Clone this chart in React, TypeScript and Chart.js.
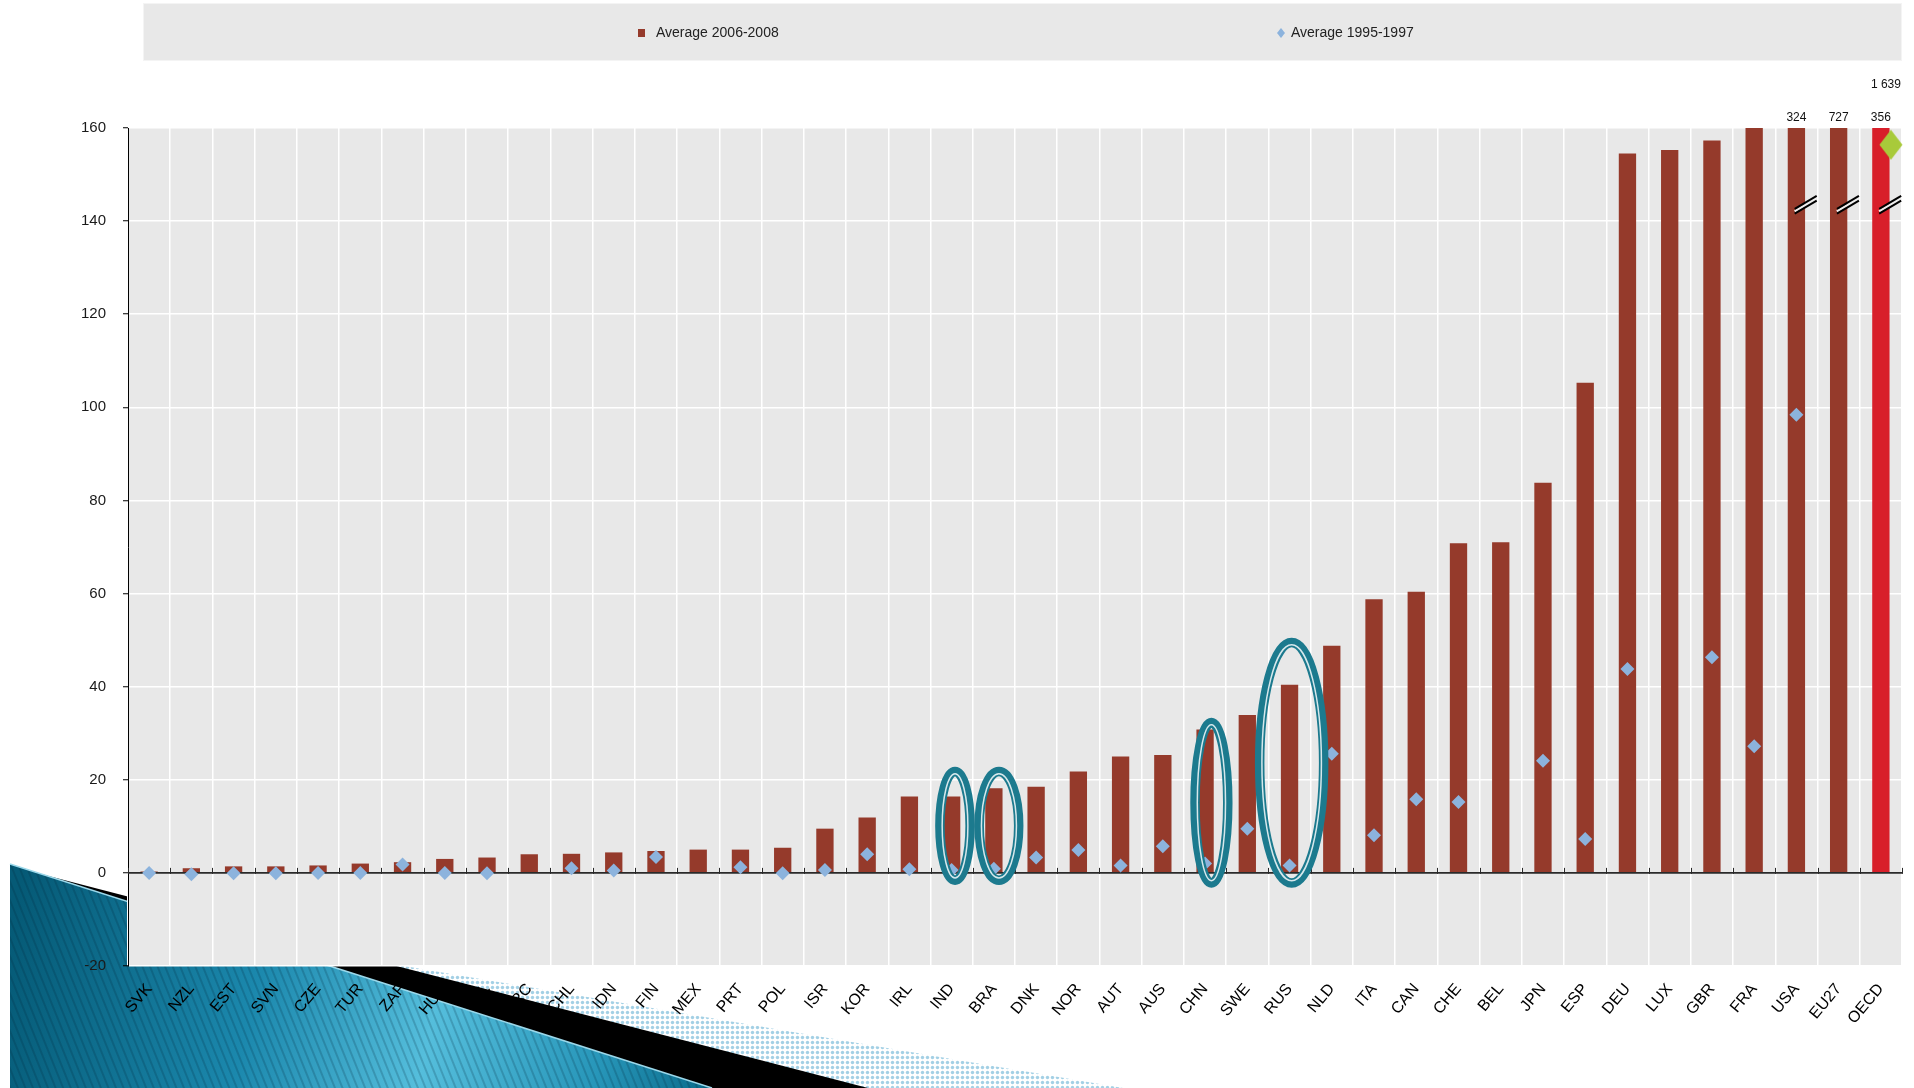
import React, { useEffect, useRef } from "react";
import { Chart, registerables } from "chart.js";

Chart.register(...registerables);

// Countries along the x axis, ordered by the recent average
const countries = [
  "SVK", "NZL", "EST", "SVN", "CZE", "TUR", "ZAF", "HUN", "ISL", "GRC",
  "CHL", "IDN", "FIN", "MEX", "PRT", "POL", "ISR", "KOR", "IRL", "IND",
  "BRA", "DNK", "NOR", "AUT", "AUS", "CHN", "SWE", "RUS", "NLD", "ITA",
  "CAN", "CHE", "BEL", "JPN", "ESP", "DEU", "LUX", "GBR", "FRA", "USA",
  "EU27", "OECD",
];

const avg2006_2008 = [
  0.3, 1.0, 1.4, 1.4, 1.6, 2.0, 2.3, 3.0, 3.3, 4.0,
  4.1, 4.4, 4.7, 5.0, 5.0, 5.4, 9.5, 11.9, 16.4, 16.4,
  18.2, 18.5, 21.8, 25.0, 25.3, 30.8, 33.9, 40.4, 48.8, 58.8,
  60.4, 70.8, 71.0, 83.8, 105.3, 154.5, 155.3, 157.3, 160, 324,
  727, 356,
];

const avg1995_1997: (number | null)[] = [
  0, -0.3, -0.1, -0.1, 0, 0, 1.8, 0, -0.1, null,
  1.0, 0.5, 3.4, null, 1.2, -0.1, 0.6, 4.0, 0.8, 0.6,
  0.9, 3.3, 4.9, 1.6, 5.7, 2.0, 9.5, 1.6, 25.6, 8.1,
  15.8, 15.2, null, 24.1, 7.3, 43.8, null, 46.3, 27.2, 98.4,
  null, 1639,
];

const seriesLabels = ["Average 2006-2008", "Average 1995-1997"];
const yTickValues = [-20, 0, 20, 40, 60, 80, 100, 120, 140, 160];
const highlighted = ["IND", "BRA", "CHN", "RUS"];

// Ring outlines around highlighted countries (value span, half width and shift in category widths)
const ringShapes: Record<string, { low: number; high: number; half: number; shift: number }> = {
  IND: { low: -2.6, high: 22.8, half: 0.47, shift: 0.08 },
  BRA: { low: -2.6, high: 22.8, half: 0.58, shift: 0.12 },
  CHN: { low: -3.2, high: 33.3, half: 0.5, shift: 0.15 },
  RUS: { low: -3.2, high: 50.5, half: 0.87, shift: 0.05 },
};

const Y_MIN = -20;
const Y_MAX = 160;
const BREAK_AT = 143.5; // where the axis-break marks sit on off-scale bars
const PIN_AT = 156.4; // off-scale markers are pinned here

const BAR_BROWN = "#953a2b";
const OECD_RED = "#d81f2a";
const DIAMOND_BLUE = "#8cb3dd";
const OECD_GREEN = "#a8ca3a";
const TEAL = "#1c7a8e";
const PLOT_BG = "#e8e8e8";
const SANS = '"Liberation Sans", Arial, sans-serif';
const NARROW = '"Liberation Sans Narrow", "Liberation Sans", Arial, sans-serif';

const fmt = (v: number) => String(v).replace(/\B(?=(\d{3})+(?!\d))/g, " ");

function makeGreenDiamond(): HTMLCanvasElement {
  const c = document.createElement("canvas");
  c.width = 44;
  c.height = 31;
  const g = c.getContext("2d")!;
  g.fillStyle = OECD_GREEN;
  g.beginPath();
  g.moveTo(32, 0.5);
  g.lineTo(43.5, 15.5);
  g.lineTo(32, 30.5);
  g.lineTo(20.5, 15.5);
  g.closePath();
  g.fill();
  return c;
}

const decor = {
  id: "decor",
  beforeDraw(chart: any) {
    const { ctx, chartArea: a } = chart;
    ctx.save();
    ctx.fillStyle = PLOT_BG;
    ctx.fillRect(a.left, a.top, a.right - a.left, a.bottom - a.top);
    ctx.restore();
  },
  afterDatasetDraw(chart: any, args: any) {
    if (args.index !== 0) return;
    const { ctx, chartArea: a } = chart;
    const x = chart.scales.x;
    const y = chart.scales.y;
    const y0 = y.getPixelForValue(0);
    const step = x.getPixelForValue(1) - x.getPixelForValue(0);
    ctx.save();
    ctx.strokeStyle = "#2a2a2a";
    ctx.lineWidth = 1.6;
    ctx.beginPath();
    ctx.moveTo(a.left, y0);
    ctx.lineTo(a.right, y0);
    ctx.stroke();
    ctx.lineWidth = 1;
    ctx.beginPath();
    for (let i = 0; i <= countries.length; i++) {
      const bx = Math.round(x.getPixelForValue(0) - step / 2 + i * step) + 0.5;
      ctx.moveTo(bx, y0 - 5);
      ctx.lineTo(bx, y0 + 1);
    }
    ctx.stroke();
    ctx.restore();
  },
  afterDatasetsDraw(chart: any) {
    const { ctx, chartArea: a } = chart;
    const x = chart.scales.x;
    const y = chart.scales.y;
    const step = x.getPixelForValue(1) - x.getPixelForValue(0);
    ctx.save();

    // rings
    for (const code of highlighted) {
      const r = ringShapes[code];
      const i = countries.indexOf(code);
      const cx = x.getPixelForValue(i) + r.shift * step;
      const top = y.getPixelForValue(r.high);
      const bottom = y.getPixelForValue(r.low);
      const cy = (top + bottom) / 2;
      const ry = (bottom - top) / 2;
      const rx = r.half * step;
      ctx.strokeStyle = TEAL;
      ctx.lineWidth = 9.5;
      ctx.beginPath();
      ctx.ellipse(cx, cy, rx - 4.75, ry - 4.75, 0, 0, Math.PI * 2);
      ctx.stroke();
      ctx.strokeStyle = "#d6e8ec";
      ctx.lineWidth = 1.5;
      ctx.beginPath();
      ctx.ellipse(cx, cy, rx - 7, ry - 7, 0, 0, Math.PI * 2);
      ctx.stroke();
    }

    // axis-break marks and values of off-scale bars
    const yb = y.getPixelForValue(BREAK_AT);
    ctx.font = `12px ${NARROW}`;
    ctx.fillStyle = "#111";
    ctx.textAlign = "center";
    ctx.textBaseline = "middle";
    avg2006_2008.forEach((v, i) => {
      if (v <= Y_MAX) return;
      const bx = x.getPixelForValue(i);
      const mx = bx + 0.22 * step;
      const dx = 11;
      const dy = 6.5;
      ctx.strokeStyle = "#eeeeee";
      ctx.lineWidth = 2.5;
      ctx.beginPath();
      ctx.moveTo(mx - dx, yb + dy);
      ctx.lineTo(mx + dx, yb - dy);
      ctx.stroke();
      ctx.strokeStyle = "#000";
      ctx.lineWidth = 2;
      for (const off of [-2.4, 2.4]) {
        ctx.beginPath();
        ctx.moveTo(mx - dx, yb + dy + off);
        ctx.lineTo(mx + dx, yb - dy + off);
        ctx.stroke();
      }
      ctx.fillText(fmt(v), bx, a.top - 10);
    });
    avg1995_1997.forEach((v, i) => {
      if (v == null || v <= Y_MAX) return;
      ctx.fillText(fmt(v), x.getPixelForValue(i) + 0.12 * step, a.top - 43);
    });
    ctx.restore();
  },
  afterDraw(chart: any) {
    const { ctx, chartArea: a } = chart;
    const ds = chart.data.datasets;
    ctx.save();
    ctx.fillStyle = "#e8e8e8";
    ctx.fillRect(a.left + 15, 3, a.right - a.left - 15, 58);
    ctx.strokeStyle = "#f4f4f4";
    ctx.lineWidth = 1;
    ctx.strokeRect(a.left + 15.5, 3.5, a.right - a.left - 16, 57);

    const ly = 33;
    // bar series marker
    ctx.fillStyle = BAR_BROWN;
    ctx.fillRect(638, ly - 4, 7, 8);
    // point series marker
    ctx.fillStyle = DIAMOND_BLUE;
    ctx.beginPath();
    ctx.moveTo(1281, ly - 5);
    ctx.lineTo(1285, ly);
    ctx.lineTo(1281, ly + 5);
    ctx.lineTo(1277, ly);
    ctx.closePath();
    ctx.fill();

    ctx.fillStyle = "#222";
    ctx.font = `14px ${NARROW}`;
    ctx.textAlign = "left";
    ctx.textBaseline = "middle";
    ctx.fillText(ds[0].label, 656, ly);
    ctx.fillText(ds[1].label, 1291, ly);
    ctx.restore();
  },
};

function Backdrop() {
  return (
    <svg
      width={1914}
      height={1088}
      style={{ position: "absolute", left: 0, top: 0 }}
    >
      <defs>
        <linearGradient
          id="swoosh"
          gradientUnits="userSpaceOnUse"
          x1="10"
          y1="930"
          x2="712"
          y2="1088"
        >
          <stop offset="0" stopColor="#055a76" />
          <stop offset="0.35" stopColor="#1b88ad" />
          <stop offset="0.6" stopColor="#55bedc" />
          <stop offset="0.84" stopColor="#2796b9" />
          <stop offset="1" stopColor="#0a6b8a" />
        </linearGradient>
        <pattern
          id="pinstripe"
          patternUnits="userSpaceOnUse"
          width="7"
          height="7"
          patternTransform="rotate(-22)"
        >
          <rect x="0" y="0" width="2" height="7" fill="rgba(0,35,55,0.2)" />
        </pattern>
        <pattern id="dots" patternUnits="userSpaceOnUse" width="5" height="5">
          <rect width="5" height="5" fill="#ffffff" />
          <circle cx="2.5" cy="2.5" r="1.7" fill="#a3d0e5" />
        </pattern>
      </defs>
      <polygon points="10,899 1123,1088 10,1088" fill="url(#dots)" />
      <polygon points="10,866 868,1088 10,1088" fill="#000" />
      <polygon points="10,864 712,1088 10,1088" fill="url(#swoosh)" />
      <polygon points="10,864 712,1088 10,1088" fill="url(#pinstripe)" />
      <line x1="10" y1="864" x2="712" y2="1088" stroke="#9bd8ea" strokeWidth="1.5" />
    </svg>
  );
}

export default function App() {
  const canvasRef = useRef<HTMLCanvasElement | null>(null);

  useEffect(() => {
    const canvas = canvasRef.current;
    if (!canvas) return;
    const greenMark = makeGreenDiamond();
    const oecd = countries.indexOf("OECD");

    const chart = new Chart(canvas, {
      type: "bar",
      data: {
        labels: countries,
        datasets: [
          {
            type: "bar",
            label: seriesLabels[0],
            data: avg2006_2008,
            backgroundColor: countries.map((c) => (c === "OECD" ? OECD_RED : BAR_BROWN)),
            borderWidth: 0,
            categoryPercentage: 1,
            barPercentage: 0.41,
            order: 2,
          } as any,
          {
            type: "line",
            label: seriesLabels[1],
            data: avg1995_1997.map((v) => (v == null ? null : Math.min(v, PIN_AT))),
            showLine: false,
            pointStyle: countries.map((_, i) => (i === oecd ? greenMark : "rectRot")),
            pointRadius: countries.map((_, i) => (i === oecd ? 12 : 7)),
            pointHoverRadius: 7,
            pointBackgroundColor: DIAMOND_BLUE,
            pointBorderWidth: 0,
            order: 1,
          } as any,
        ],
      },
      options: {
        animation: false,
        responsive: false,
        events: [],
        layout: { padding: { top: 128, right: 12, bottom: 0, left: 0 } },
        plugins: {
          legend: { display: false },
          tooltip: { enabled: false },
        },
        scales: {
          x: {
            offset: true,
            grid: {
              color: "#ffffff",
              lineWidth: 1.5,
              drawTicks: false,
              offset: true,
            },
            border: { display: false },
            ticks: {
              autoSkip: false,
              minRotation: 50,
              maxRotation: 50,
              color: "#000",
              padding: 14,
              font: { family: SANS, size: 16 },
            },
            afterFit: (s: any) => {
              s.height = 122;
              s.paddingLeft = 0;
              s.paddingRight = 0;
            },
          },
          y: {
            min: Y_MIN,
            max: Y_MAX,
            afterBuildTicks: (s: any) => {
              s.ticks = yTickValues.map((v) => ({ value: v }));
            },
            grid: {
              color: (c: any) => (c.tick && c.tick.value === 0 ? "rgba(0,0,0,0)" : "#ffffff"),
              lineWidth: 1.5,
              tickColor: "#000",
              tickLength: 5,
              tickWidth: 1,
            },
            border: { display: true, color: "#000", width: 1 },
            ticks: {
              color: "#1a1a1a",
              padding: 17,
              font: { family: SANS, size: 15 },
            },
            afterFit: (s: any) => {
              s.width = 128;
            },
          },
        },
      } as any,
      plugins: [decor],
    });

    return () => chart.destroy();
  }, []);

  return (
    <div
      style={{
        position: "fixed",
        left: 0,
        top: 0,
        width: 1914,
        height: 1088,
        background: "#fff",
        overflow: "hidden",
      }}
    >
      <Backdrop />
      <canvas
        ref={canvasRef}
        width={1914}
        height={1088}
        style={{ position: "absolute", left: 0, top: 0 }}
      />
    </div>
  );
}
